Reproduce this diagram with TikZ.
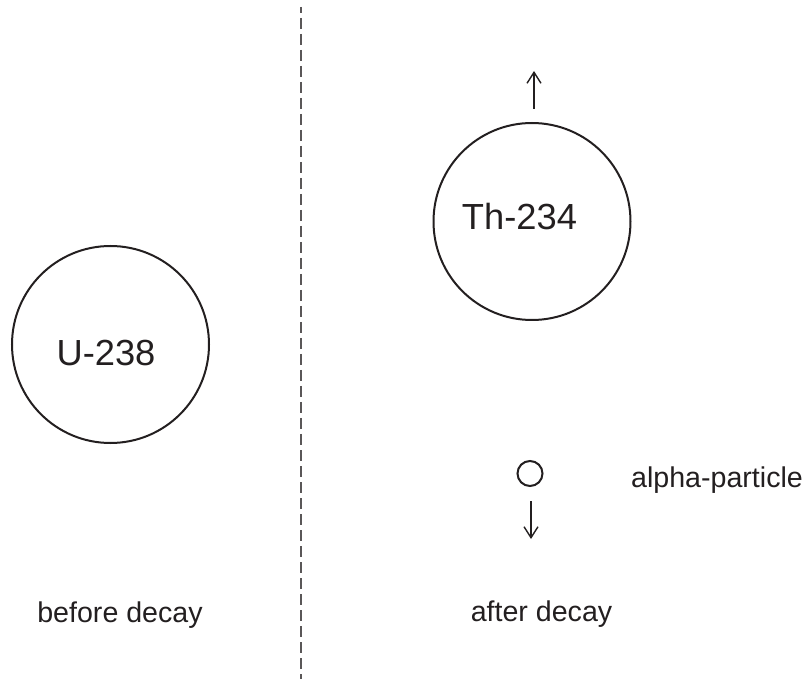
\documentclass[tikz,border=0pt]{standalone}
\usepackage{fontspec}
\setmainfont{Liberation Sans}
\usetikzlibrary{arrows.meta}
\definecolor{ink}{HTML}{231F20}
\begin{document}
\begin{tikzpicture}[x=1pt,y=-1pt,
  nucleus/.style={draw=ink,line width=2pt,circle,minimum size=197pt,inner sep=0pt},
  alphac/.style={draw=ink,line width=2pt,circle,minimum size=25pt,inner sep=0pt},
  bigtext/.style={text=ink,font=\fontsize{36.3}{40}\selectfont,anchor=base,inner sep=0pt},
  smalltext/.style={text=ink,font=\fontsize{28.6}{32}\selectfont,anchor=base,inner sep=0pt},
  motion/.style={draw=ink,line width=1.4pt,-{Straight Barb[length=11pt,width=14pt,line width=1.4pt]}},
  divider/.style={draw=ink!75,line width=1.2pt,dash pattern=on 11pt off 5pt,dash phase=5pt}]
\useasboundingbox (0,0) rectangle (807,679);
% divider
\coordinate (dtop) at (301,7);
\coordinate (dbot) at (301,679);
\draw[divider] (dtop) -- (dbot);
% before
\node[nucleus] (U) at (110.5,344.5) {};
\node[bigtext] (Ut) at (106,366) {U-238};
\node[smalltext] (bef) at (120,622) {before decay};
% after
\node[nucleus] (Th) at (532,221.5) {};
\node[bigtext] (Tht) at (519.5,230) {Th-234};
\coordinate (thA) at (534,109);
\coordinate (thB) at (534,71);
\draw[motion] (thA) -- (thB);
\node[alphac] (al) at (530,473.5) {};
\coordinate (alA) at (531,501);
\coordinate (alB) at (531,539);
\draw[motion] (alA) -- (alB);
\node[smalltext] (alt) at (717,487) {alpha-particle};
\node[smalltext] (aft) at (541.5,621) {after decay};
\end{tikzpicture}
\end{document}
